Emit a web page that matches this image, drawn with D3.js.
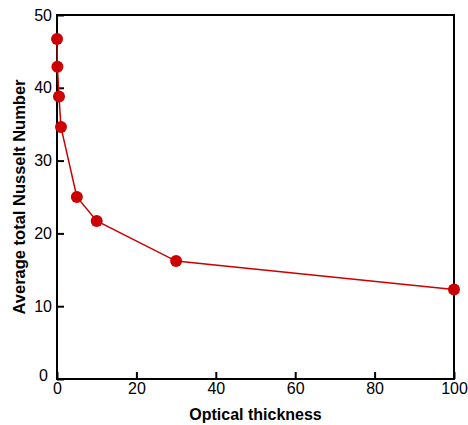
<!DOCTYPE html>
<html><head><meta charset="utf-8">
<script src="https://cdn.jsdelivr.net/npm/d3@7"></script>
<style>body{margin:0;background:#fff}svg{display:block}</style>
</head><body>
<svg id="c" width="468" height="425"></svg>
<script>
const opticalThickness = [0.01, 0.1, 0.5, 1, 5, 10, 30, 100];
const nusselt = [46.7, 42.9, 38.8, 34.6, 25.0, 21.7, 16.2, 12.3];
const xTicks = [0, 20, 40, 60, 80, 100];
const yTicks = [0, 10, 20, 30, 40, 50];

const svg = d3.select("#c");
const L = 57, R = 454, T = 15, B = 379;
const x = d3.scaleLinear().domain([0, 100]).range([L, R]);
const y = d3.scaleLinear().domain([0, 50]).range([B, T]);
const font = "Liberation Sans, Arial, sans-serif";

// frame
svg.append("rect").attr("x", L).attr("y", T).attr("width", R - L).attr("height", B - T)
  .attr("fill", "none").attr("stroke", "#000").attr("stroke-width", 2);

// x axis ticks (inward)
const xa = svg.append("g").attr("transform", `translate(0,${B})`)
  .call(d3.axisBottom(x).tickValues(xTicks).tickSizeInner(-7).tickSizeOuter(0).tickPadding(4));
xa.select(".domain").remove();
xa.selectAll("line").attr("stroke-width", 2);
xa.selectAll("text").attr("font-family", font).attr("font-size", 16).attr("fill", "#000");

const ya = svg.append("g").attr("transform", `translate(${L},0)`)
  .call(d3.axisLeft(y).tickValues(yTicks).tickSizeInner(-7).tickSizeOuter(0).tickPadding(5));
ya.select(".domain").remove();
ya.selectAll("line").attr("stroke-width", 2);
ya.selectAll("text").attr("font-family", font).attr("font-size", 16).attr("fill", "#000");
ya.selectAll(".tick").filter(d => d === 0).select("text").attr("dy", "0.1em")
  .attr("x", -9);

// line
const pts = opticalThickness.map((t, i) => [t, nusselt[i]]);
svg.append("path").datum(pts)
  .attr("fill", "none").attr("stroke", "#cc0000").attr("stroke-width", 1.5)
  .attr("d", d3.line().x(d => x(d[0])).y(d => y(d[1])));
svg.selectAll("circle.m").data(pts).enter().append("circle")
  .attr("cx", d => x(d[0])).attr("cy", d => y(d[1])).attr("r", 6)
  .attr("fill", "#cc0000");

// labels
svg.append("text").attr("x", (L + R) / 2).attr("y", 420).attr("text-anchor", "middle")
  .attr("font-family", font).attr("font-weight", "bold").attr("font-size", 16)
  .text("Optical thickness");
svg.append("text").attr("transform", `translate(25,${(T + B) / 2}) rotate(-90)`)
  .attr("text-anchor", "middle")
  .attr("font-family", font).attr("font-weight", "bold").attr("font-size", 16.5)
  .text("Average total Nusselt Number");
</script>
</body></html>
